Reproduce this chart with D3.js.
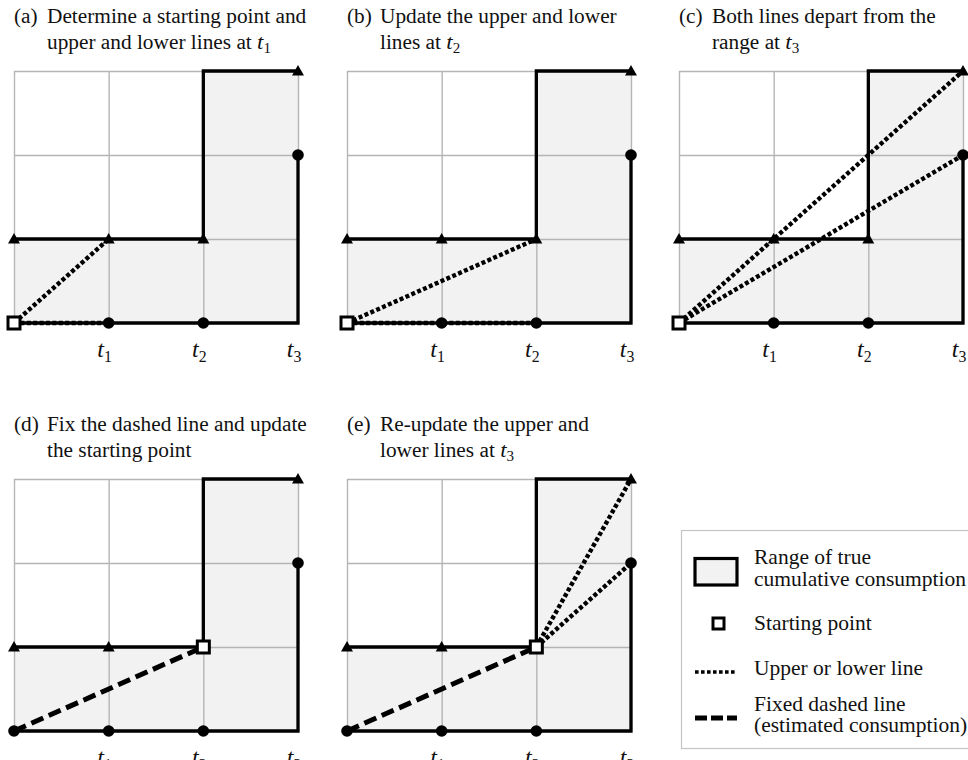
<!DOCTYPE html>
<html>
<head>
<meta charset="utf-8">
<script src="https://cdn.jsdelivr.net/npm/d3@7/dist/d3.min.js"></script>
<style>
  html, body { margin: 0; padding: 0; background: #fff; overflow: hidden; }
  svg { display: block; }
</style>
</head>
<body>
<svg id="chart" width="968" height="760"></svg>
<script>
// ---- data -------------------------------------------------------------
// time steps 0, t1, t2, t3 and the bounds of the true cumulative consumption
const timeSteps = [0, 1, 2, 3];
const timeLabels = ["", "t1", "t2", "t3"];
const upperBound = [1, 1, 1, 3];   // upper limit at each step (triangles)
const lowerBound = [0, 0, 0, 2];   // lower limit at each step (circles)
const valueLevels = [0, 1, 2, 3];

const panelLetters = ["(a)", "(b)", "(c)", "(d)", "(e)"];
const panelLine1 = [
  "Determine a starting point and",
  "Update the upper and lower",
  "Both lines depart from the",
  "Fix the dashed line and update",
  "Re-update the upper and"
];
const panelLine2 = [
  "upper and lower lines at ",
  "lines at ",
  "range at ",
  "the starting point",
  "lower lines at "
];
const panelLine2Math = ["t1", "t2", "t3", "", "t3"];

// starting point of each stage
const startStep = [0, 0, 0, 2, 2];
const startValue = [0, 0, 0, 1, 1];
// step at which the upper/lower lines end (null: none drawn)
const probeStep = [1, 2, 3, null, 3];
// whether the fixed dashed line (estimate) is drawn
const hasFixedLine = [false, false, false, true, true];

const legendLabels = [
  ["Range of true", "cumulative consumption"],
  ["Starting point"],
  ["Upper or lower line"],
  ["Fixed dashed line", "(estimated consumption)"]
];

// ---- layout -----------------------------------------------------------
const layout = {
  left:   [14, 347, 679, 14, 347],
  top:    [71, 71, 71, 479, 479],
  width: 284,
  height: 252,
  titleGap: 48,
  lineGap: 26
};

const svg = d3.select("#chart");
const serif = "'Liberation Serif', 'Times New Roman', serif";
const black = "#000";
const gridColor = "#b5b5b5";
const fillColor = "#f2f2f2";
const dotted = { width: 4.4, dash: "4,2.4" };
const dashed = { width: 5, dash: "13,6" };

function mathLabel(sel, label, size) {
  // italic t with an upright numeric subscript
  sel.append("tspan").attr("font-style", "italic").attr("font-size", size).text(label[0]);
  sel.append("tspan").attr("font-size", size * 0.66).attr("dy", size * 0.2).text(label.slice(1));
}

panelLetters.forEach((letter, p) => {
  const g = svg.append("g")
    .attr("transform", `translate(${layout.left[p]},${layout.top[p]})`);

  const x = d3.scaleLinear().domain(d3.extent(timeSteps)).range([0, layout.width]);
  const y = d3.scaleLinear().domain(d3.extent(valueLevels)).range([layout.height, 0]);

  // range of true cumulative consumption
  const area = d3.area()
    .x(i => x(timeSteps[i]))
    .y0(() => y(d3.min(lowerBound)))
    .y1(i => y(upperBound[i]))
    .curve(d3.curveStepBefore);
  g.append("path").datum(d3.range(timeSteps.length))
    .attr("d", area).attr("fill", fillColor);

  // grid
  g.append("g")
    .call(d3.axisBottom(x).tickValues(timeSteps).tickSize(layout.height).tickFormat(""))
    .call(a => a.select(".domain").remove())
    .call(a => a.selectAll("line").attr("stroke", gridColor).attr("stroke-width", 1.4));
  g.append("g")
    .call(d3.axisLeft(y).tickValues(valueLevels).tickSize(-layout.width).tickFormat(""))
    .call(a => a.select(".domain").remove())
    .call(a => a.selectAll("line").attr("stroke", gridColor).attr("stroke-width", 1.4));

  // bounds
  const idx = d3.range(timeSteps.length);
  g.append("path").datum(idx)
    .attr("d", d3.line().x(i => x(timeSteps[i])).y(i => y(upperBound[i])).curve(d3.curveStepBefore))
    .attr("fill", "none").attr("stroke", black).attr("stroke-width", 3.3);
  g.append("path").datum(idx)
    .attr("d", d3.line().x(i => x(timeSteps[i])).y(i => y(lowerBound[i])).curve(d3.curveStepAfter))
    .attr("fill", "none").attr("stroke", black).attr("stroke-width", 3.3);

  // time labels
  timeLabels.forEach((lab, i) => {
    if (!lab) return;
    const t = g.append("text")
      .attr("x", x(timeSteps[i]) - 4)
      .attr("y", layout.height + 34)
      .attr("text-anchor", "middle")
      .attr("font-family", serif)
      .attr("fill", "#111");
    mathLabel(t, lab, 24);
  });

  // fixed dashed line from the origin to the current starting point
  if (hasFixedLine[p]) {
    g.append("line")
      .attr("x1", x(timeSteps[0])).attr("y1", y(lowerBound[0]))
      .attr("x2", x(startStep[p])).attr("y2", y(startValue[p]))
      .attr("stroke", black).attr("stroke-width", dashed.width)
      .attr("stroke-dasharray", dashed.dash);
  }

  // upper and lower lines from the starting point
  if (probeStep[p] !== null) {
    const k = probeStep[p];
    [upperBound[k], lowerBound[k]].forEach(v => {
      g.append("line")
        .attr("x1", x(startStep[p])).attr("y1", y(startValue[p]))
        .attr("x2", x(timeSteps[k])).attr("y2", y(v))
        .attr("stroke", black).attr("stroke-width", dotted.width)
        .attr("stroke-dasharray", dotted.dash);
    });
  }

  // lower-bound markers
  const circles = timeSteps.filter(t => t > 0 || startStep[p] !== 0);
  g.selectAll(".low").data(circles).join("circle")
    .attr("cx", t => x(t)).attr("cy", t => y(lowerBound[t]))
    .attr("r", 5.8).attr("fill", black);

  // upper-bound markers
  g.selectAll(".up").data(timeSteps).join("path")
    .attr("d", d3.symbol(d3.symbolTriangle, 62))
    .attr("transform", t => `translate(${x(t)},${y(upperBound[t]) + 1})`)
    .attr("fill", black);

  // starting point
  g.append("rect")
    .attr("x", x(startStep[p]) - 6).attr("y", y(startValue[p]) - 6)
    .attr("width", 12).attr("height", 12)
    .attr("fill", "#fff").attr("stroke", black).attr("stroke-width", 3);

  // title
  const tx = layout.left[p], ty = layout.top[p] - layout.titleGap;
  const title = svg.append("g").attr("font-family", serif).attr("font-size", 20.5).attr("fill", "#111");
  title.append("text").attr("transform", `translate(${tx},${ty}) scale(1.04,1)`).text(letter);
  title.append("text").attr("transform", `translate(${tx + 33},${ty}) scale(1.04,1)`).text(panelLine1[p]);
  const l2 = title.append("text").attr("transform", `translate(${tx + 33},${ty + layout.lineGap}) scale(1.04,1)`);
  l2.append("tspan").text(panelLine2[p]);
  if (panelLine2Math[p]) mathLabel(l2, panelLine2Math[p], 22);
});

// ---- legend -------------------------------------------------------------
const lg = svg.append("g").attr("font-family", serif).attr("font-size", 21.5).attr("fill", "#111");
lg.append("rect").attr("x", 681.5).attr("y", 530.5).attr("width", 320).attr("height", 218)
  .attr("fill", "#fff").attr("stroke", "#c4c4c4").attr("stroke-width", 1.2);

const symX = 695, symW = 42, textX = 754;
lg.append("rect").attr("x", symX).attr("y", 558.5).attr("width", symW).attr("height", 26.5)
  .attr("fill", fillColor).attr("stroke", black).attr("stroke-width", 3.2);
lg.append("rect").attr("x", 713).attr("y", 618).attr("width", 11).attr("height", 11)
  .attr("fill", "#fff").attr("stroke", black).attr("stroke-width", 3);
lg.append("line").attr("x1", symX).attr("x2", symX + symW).attr("y1", 672).attr("y2", 672)
  .attr("stroke", black).attr("stroke-width", 3.6).attr("stroke-dasharray", "3.6,2.4");
lg.append("line").attr("x1", symX).attr("x2", symX + symW).attr("y1", 718).attr("y2", 718)
  .attr("stroke", black).attr("stroke-width", 5).attr("stroke-dasharray", "12,4");

const legendBaselines = [[564, 586], [630], [675], [711, 732]];
legendLabels.forEach((lines, i) => {
  lines.forEach((s, j) => {
    lg.append("text").attr("x", textX).attr("y", legendBaselines[i][j]).text(s);
  });
});
</script>
</body>
</html>
